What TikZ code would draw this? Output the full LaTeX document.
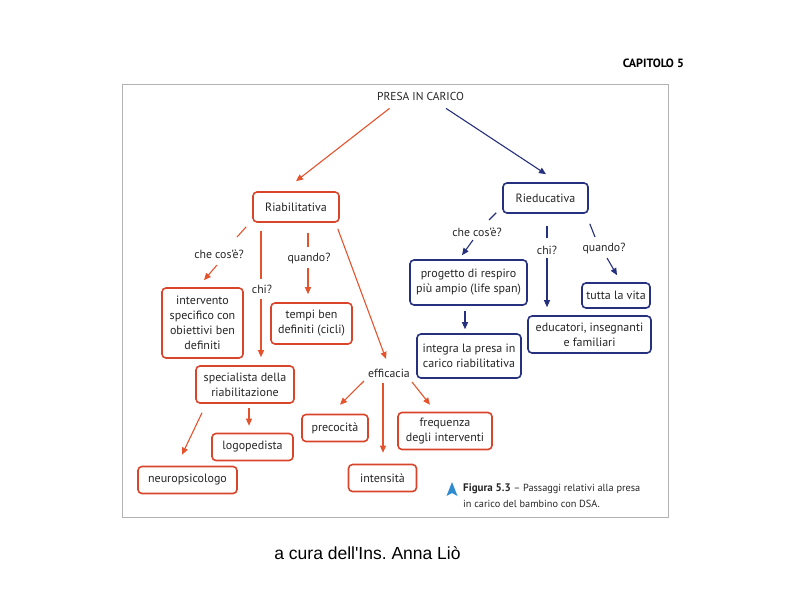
\documentclass[tikz,border=0pt]{standalone}
\usepackage{fontspec}
\setmainfont{PT Sans}
\newfontfamily\arialfont{Liberation Sans}
\usetikzlibrary{positioning}
\usetikzlibrary{arrows.meta}

\definecolor{boxred}{HTML}{D9452A}
\definecolor{arrowred}{HTML}{E5532D}
\definecolor{boxblue}{HTML}{25307E}
\definecolor{textgray}{HTML}{262626}
\definecolor{figblue}{HTML}{2E8BD0}

\begin{document}
\frenchspacing
\begin{tikzpicture}[x=1pt, y=-1pt,
    redbox/.style={draw=boxred, line width=1.6pt, rounded corners=4pt, fill=white, align=center, inner sep=0pt, text=textgray, font=\fontsize{12}{15}\selectfont},
    bluebox/.style={redbox, draw=boxblue},
    qlabel/.style={text=textgray, inner sep=1pt, font=\fontsize{11.8}{14}\selectfont},
    redline/.style={draw=arrowred, line width=1.1pt},
    blueline/.style={draw=boxblue, line width=1.1pt},
    redarrow/.style={redline, -{Triangle[length=7pt,width=6pt]}},
    bluearrow/.style={blueline, -{Triangle[length=7pt,width=6pt]}},
]
    \useasboundingbox (0,0) rectangle (794,595);
    \draw [black!30, line width=0.8pt] (122,84) rectangle (668,517);
    \node at (684,63) [anchor=east, inner sep=0pt, font=\bfseries\fontsize{12}{14}\selectfont] (chapter) {CAPITOLO 5};

    % Root
    \node at (420.5,96) [qlabel, font=\fontsize{11.5}{13}\selectfont] (presa) {PRESA IN CARICO};

    % Riabilitativa
    \node at (296,207) [redbox, minimum width=86, minimum height=30] (riab) {Riabilitativa};
    \draw [redarrow] ([shift={(-31,7)}]presa.south) -- ([shift={(0,-10)}]riab.north);

    \node at (219,254) [qlabel] (cosa1) {che cos’è?};
    \node at (262,289) [qlabel] (chi1) {chi?};
    \node at (309,258) [qlabel] (when1) {quando?};
    \node at (389,373) [qlabel] (effic) {efficacia};

    \node at (202.5,323) [redbox, minimum width=81, minimum height=70] (interv) {intervento\\specifico con\\obiettivi ben\\definiti};
    \node at (311.5,323.5) [redbox, minimum width=81, minimum height=41] (tempi) {tempi ben\\definiti (cicli)};
    \node at (245,384.5) [redbox, minimum width=98, minimum height=37] (spec) {specialista della\\riabilitazione};
    \node at (252.5,447) [redbox, minimum width=81, minimum height=27] (logo) {logopedista};
    \node at (187.5,480) [redbox, minimum width=99, minimum height=27] (neuro) {neuropsicologo};
    \node at (335,428) [redbox, minimum width=66, minimum height=27] (prec) {precocità};
    \node at (382.5,478) [redbox, minimum width=68, minimum height=27] (intens) {intensità};
    \node at (445,431) [redbox, minimum width=94, minimum height=37] (freq) {frequenza\\degli interventi};

    \draw [redline] ([shift={(-6,4)}]riab.south west) -- ([shift={(18,-17)}]cosa1.center);
    \draw [redarrow] ([shift={(-2,11)}]cosa1.center) -- ([shift={(1.5,-7)}]interv.north);
    \draw [redline] ([shift={(-35,8)}]riab.south) -- ([shift={(-1,-10)}]chi1.center);
    \draw [redarrow] ([shift={(-1,10)}]chi1.center) -- ([shift={(16,-8)}]spec.north);
    \draw [redline] ([shift={(12,10)}]riab.south) -- ([shift={(-1,-11)}]when1.center);
    \draw [redarrow] ([shift={(-1,10)}]when1.center) -- ([shift={(-3.5,-8)}]tempi.north);
    \draw [redarrow] ([shift={(-2,6)}]riab.south east) -- ([shift={(-3,-14)}]effic.center);

    \draw [redarrow] ([shift={(-25,8)}]effic.center) -- ([shift={(5,-9)}]prec.north);
    \draw [redarrow] ([shift={(-6,10)}]effic.center) -- ([shift={(0.5,-11)}]intens.north);
    \draw [redarrow] ([shift={(23,9)}]effic.center) -- ([shift={(-15,-7)}]freq.north);

    \draw [redarrow] ([shift={(4,4)}]spec.south) -- ([shift={(-3.5,-7)}]logo.north);
    \draw [redarrow] ([shift={(-43,9)}]spec.south) -- ([shift={(-5.5,-11)}]neuro.north);

    % Rieducativa
    \node at (545.5,198) [bluebox, minimum width=85, minimum height=30] (ried) {Rieducativa};
    \draw [bluearrow] ([shift={(25.5,7)}]presa.south) -- ([shift={(0.5,-8)}]ried.north);

    \node at (477,232) [qlabel] (cosa2) {che cos’è?};
    \node at (547,250) [qlabel] (chi2) {chi?};
    \node at (604,248) [qlabel] (when2) {quando?};

    \node at (468.5,282.5) [bluebox, minimum width=117, minimum height=45] (prog) {progetto di respiro\\più ampio (life span)};
    \node at (469,356) [bluebox, minimum width=104, minimum height=44] (integ) {integra la presa in\\carico riabilitativa};
    \node at (616,295.5) [bluebox, minimum width=68, minimum height=25] (tutta) {tutta la vita};
    \node at (589.5,334.5) [bluebox, minimum width=123, minimum height=37] (educ) {educatori, insegnanti\\e familiari};

    \draw [blueline] ([shift={(-6,-1)}]ried.south west) -- ([shift={(12,-12)}]cosa2.center);
    \draw [bluearrow] ([shift={(-4,8)}]cosa2.center) -- ([shift={(-6.5,-4)}]prog.north);
    \draw [blueline] ([shift={(1.5,12)}]ried.south) -- ([shift={(0,-12)}]chi2.center);
    \draw [bluearrow] ([shift={(0,8)}]chi2.center) -- ([shift={(-42.5,-8)}]educ.north);
    \draw [blueline] ([shift={(1,10)}]ried.south east) -- ([shift={(-9,-11)}]when2.center);
    \draw [bluearrow] ([shift={(3,10)}]when2.center) -- ([shift={(1,-7)}]tutta.north);
    \draw [bluearrow] ([shift={(-3.5,5)}]prog.south) -- ([shift={(-4,-4)}]integ.north);

    % Caption
    \fill [figblue] (452,482) -- (457.5,496) -- (452,493) -- (446.5,496) -- cycle;
    \node at (463,496) [anchor=west, align=left, text=textgray, inner sep=0pt, font=\fontsize{10.3}{16}\selectfont] (caption) {{\fontsize{11}{16}\selectfont\textbf{Figura 5.3}} – Passaggi relativi alla presa\\in carico del bambino con DSA.};

    \node at (367.5,553) [font=\arialfont\fontsize{17.5}{20}\selectfont] (credit) {a cura dell'Ins. Anna Liò};
\end{tikzpicture}
\end{document}
